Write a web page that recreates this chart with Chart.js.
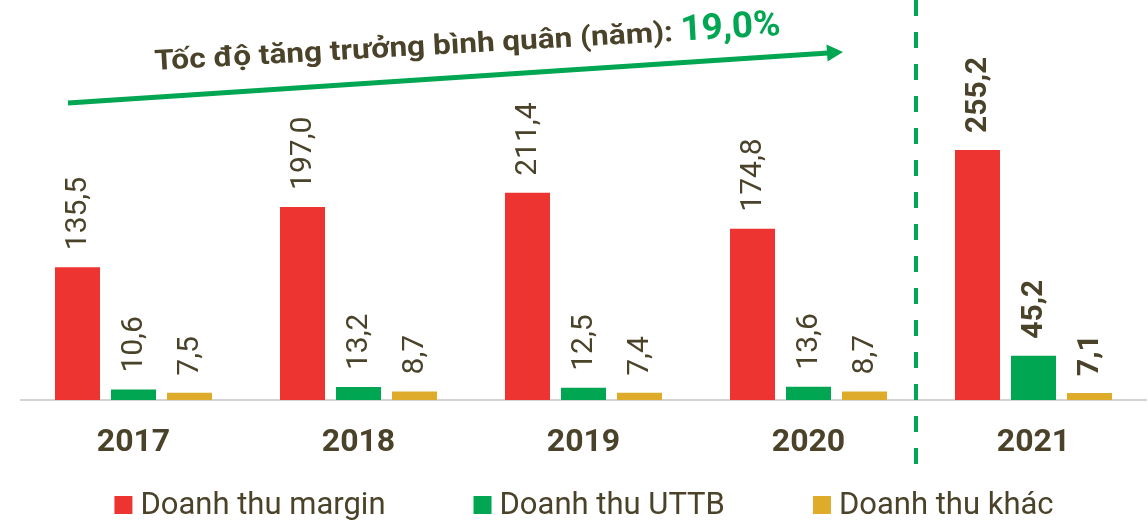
<!DOCTYPE html>
<html>
<head>
<meta charset="utf-8">
<script src="https://cdn.jsdelivr.net/npm/chart.js@4.4.1/dist/chart.umd.min.js"></script>
<style>
  html, body { margin: 0; padding: 0; background: #ffffff; }
  #wrap { width: 1148px; height: 521px; position: relative; }
</style>
</head>
<body>
<div id="wrap"><canvas id="c" width="1148" height="521"></canvas></div>
<script>
const years = ['2017', '2018', '2019', '2020', '2021'];
const marginRevenue = [135.5, 197.0, 211.4, 174.8, 255.2];
const brokerageRevenue = [10.6, 13.2, 12.5, 13.6, 45.2];
const otherRevenue = [7.5, 8.7, 7.4, 8.7, 7.1];
const seriesNames = ['Doanh thu margin', 'Doanh thu UTTB', 'Doanh thu khác'];
const titleText = 'Tốc độ tăng trưởng bình quân (năm): ';
const titleValue = '19,0%';

const RED = '#ee3431';
const GREEN = '#00a651';
const YELLOW = '#dfab2b';
const DARK = '#4a4229';

const fmt = v => v.toFixed(1).replace('.', ',');

const overlay = {
  id: 'overlay',
  afterDatasetsDraw(chart) {
    const ctx = chart.ctx;
    const xs = chart.scales.x;

    // value labels
    chart.data.datasets.forEach((ds, di) => {
      const meta = chart.getDatasetMeta(di);
      meta.data.forEach((el, i) => {
        ctx.save();
        ctx.translate(el.x + 1, el.y - 17);
        ctx.rotate(-Math.PI / 2);
        ctx.font = (i === 4 ? 'bold ' : '') + '30px Roboto';
        ctx.fillStyle = DARK;
        ctx.textAlign = 'left';
        ctx.textBaseline = 'middle';
        ctx.fillText(fmt(ds.data[i]), 0, 0);
        ctx.restore();
      });
    });

    // dashed separator between 2020 and 2021
    const sepX = xs.getPixelForValue(3.5) - 5;
    ctx.save();
    ctx.strokeStyle = GREEN;
    ctx.lineWidth = 4;
    ctx.setLineDash([16, 16]);
    ctx.beginPath();
    ctx.moveTo(sepX, 0);
    ctx.lineTo(sepX, 472);
    ctx.stroke();
    ctx.restore();

    // growth arrow
    const x0 = 68, y0 = 103, x1 = 843, y1 = 52;
    const ang = Math.atan2(y1 - y0, x1 - x0);
    const headLen = 16, headHalf = 8.5;
    const bx = x1 - headLen * Math.cos(ang), by = y1 - headLen * Math.sin(ang);
    ctx.save();
    ctx.strokeStyle = GREEN;
    ctx.fillStyle = GREEN;
    ctx.lineWidth = 5;
    ctx.beginPath();
    ctx.moveTo(x0, y0);
    ctx.lineTo(bx + 1, by);
    ctx.stroke();
    ctx.beginPath();
    ctx.moveTo(x1, y1);
    ctx.lineTo(bx - headHalf * Math.sin(ang), by + headHalf * Math.cos(ang));
    ctx.lineTo(bx + headHalf * Math.sin(ang), by - headHalf * Math.cos(ang));
    ctx.closePath();
    ctx.fill();
    ctx.restore();

    // title along the arrow
    ctx.save();
    ctx.translate(155, 70);
    ctx.rotate(-3.2 * Math.PI / 180);
    ctx.textAlign = 'left';
    ctx.textBaseline = 'alphabetic';
    ctx.font = 'bold 28px Roboto';
    const w1 = ctx.measureText(titleText).width;
    const target1 = 527;
    ctx.save();
    ctx.scale(target1 / w1, 1);
    ctx.fillStyle = DARK;
    ctx.fillText(titleText, 0, 0);
    ctx.restore();
    ctx.font = 'bold 36px Roboto';
    const w2 = ctx.measureText(titleValue).width;
    ctx.save();
    ctx.translate(target1, 0);
    ctx.scale(100 / w2, 1);
    ctx.fillStyle = GREEN;
    ctx.fillText(titleValue, 0, 0);
    ctx.restore();
    ctx.restore();

    // legend
    ctx.save();
    ctx.font = '31px Roboto';
    ctx.textBaseline = 'middle';
    ctx.textAlign = 'left';
    const box = 18, gapBoxText = 8, gapItems = 88;
    const colors = [RED, GREEN, YELLOW];
    let total = 0;
    const widths = seriesNames.map(n => ctx.measureText(n).width);
    widths.forEach((w, i) => { total += box + gapBoxText + w + (i < widths.length - 1 ? gapItems : 0); });
    let lx = 584 - total / 2;
    const ly = 505;
    seriesNames.forEach((n, i) => {
      ctx.fillStyle = colors[i];
      ctx.fillRect(lx, ly - box / 2, box, box);
      ctx.fillStyle = DARK;
      ctx.fillText(n, lx + box + gapBoxText, ly + 1);
      lx += box + gapBoxText + widths[i] + gapItems;
    });
    ctx.restore();
  }
};

new Chart(document.getElementById('c'), {
  type: 'bar',
  data: {
    labels: years,
    datasets: [
      { label: seriesNames[0], data: marginRevenue, backgroundColor: RED },
      { label: seriesNames[1], data: brokerageRevenue, backgroundColor: GREEN },
      { label: seriesNames[2], data: otherRevenue, backgroundColor: YELLOW }
    ]
  },
  options: {
    responsive: false,
    devicePixelRatio: 1,
    animation: false,
    events: [],
    layout: { padding: { top: 106, left: 21, right: 2, bottom: 0 } },
    datasets: { bar: { categoryPercentage: 0.7467, barPercentage: 0.8036 } },
    plugins: { legend: { display: false }, tooltip: { enabled: false }, title: { display: false } },
    scales: {
      x: {
        grid: { display: false, drawTicks: false },
        border: { display: true, color: '#d3d3d3', width: 2 },
        ticks: { color: DARK, font: { family: 'Roboto', size: 32, weight: 'bold' }, padding: 24 },
        afterFit(scale) { scale.height = 121; }
      },
      y: { display: false, min: 0, max: 300 }
    }
  },
  plugins: [overlay]
});
</script>
</body>
</html>
